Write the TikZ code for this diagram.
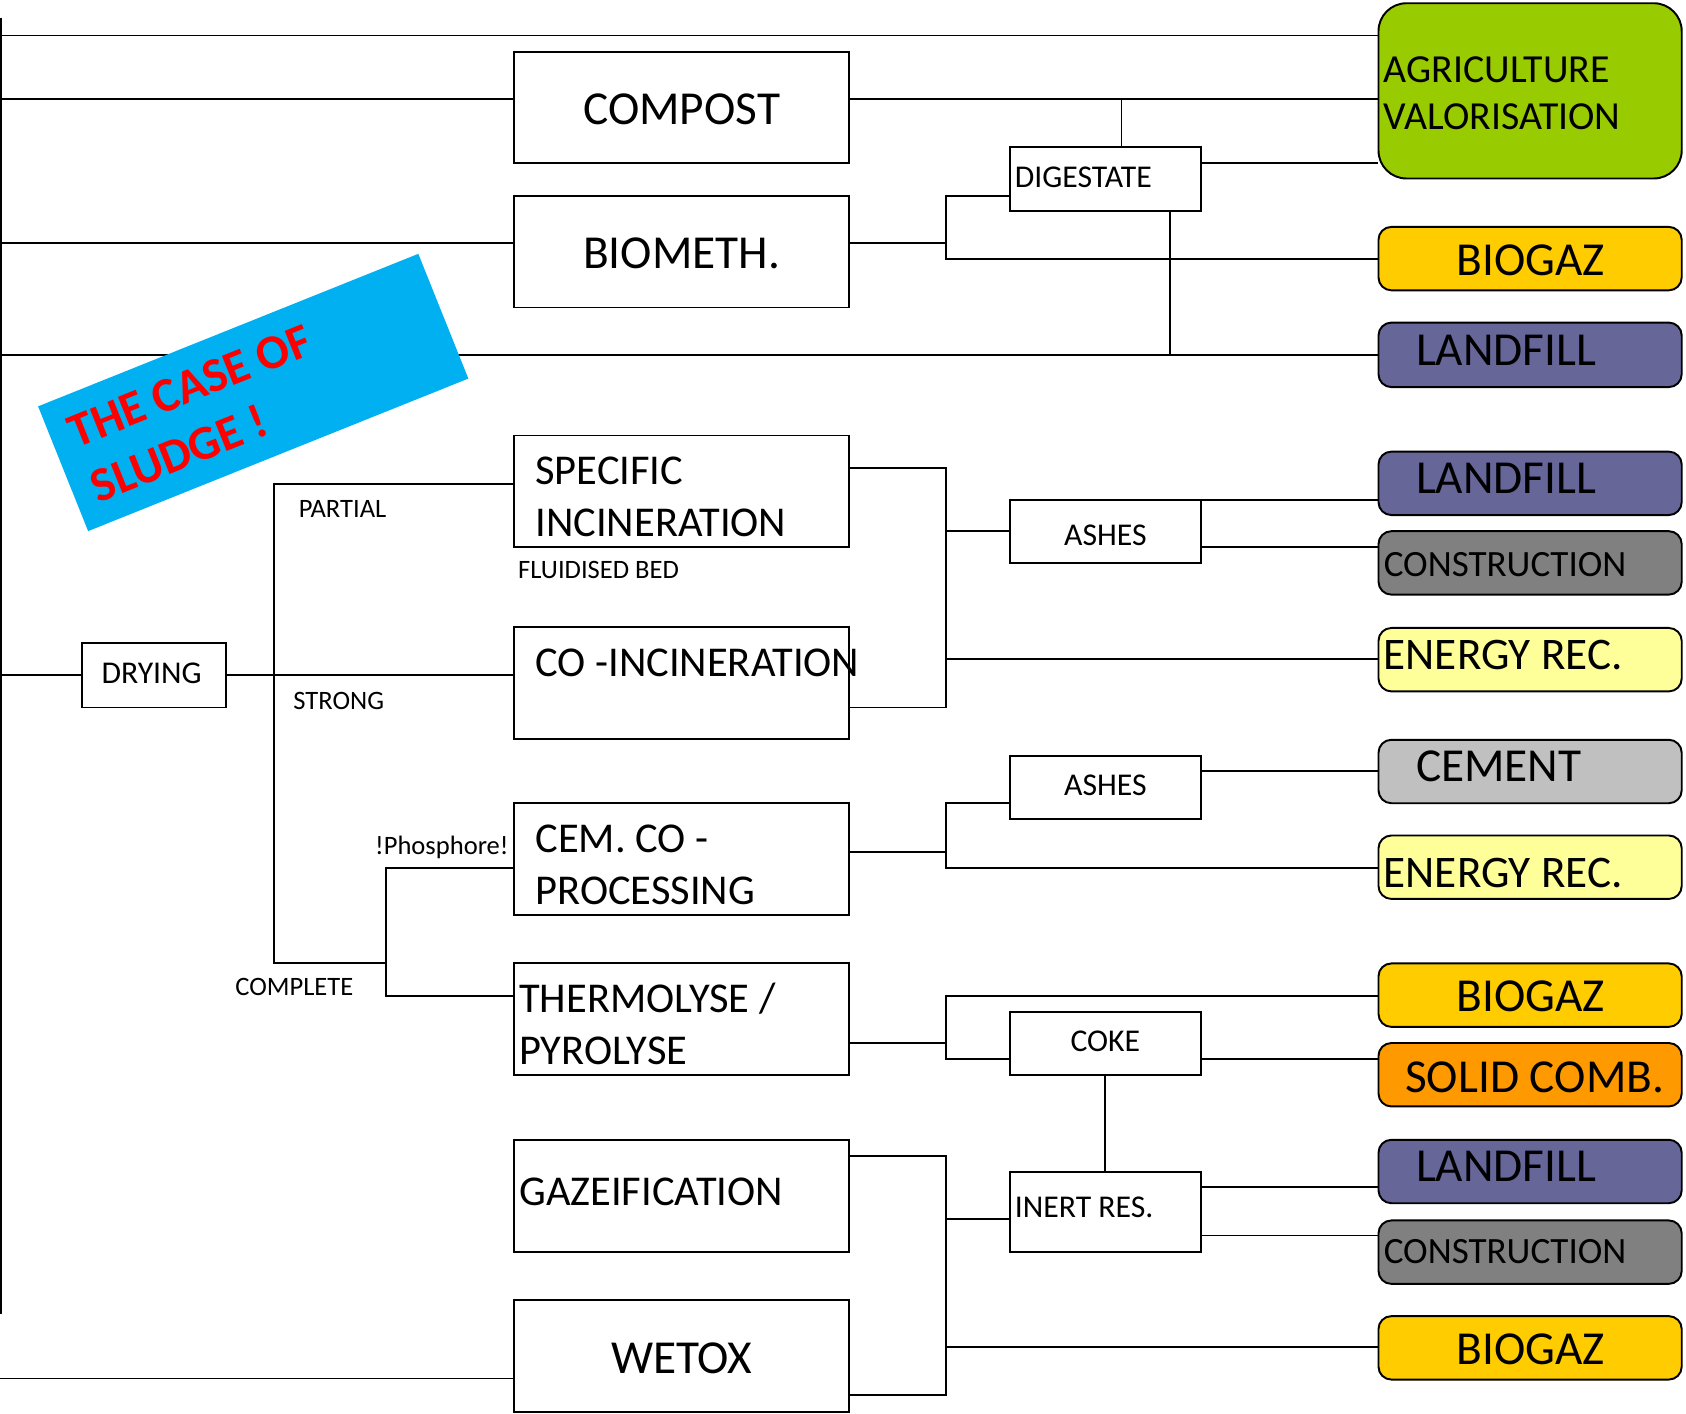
\documentclass[tikz,border=0pt]{standalone}
\usepackage{fontspec}
\setmainfont{Carlito}
\definecolor{agri}{HTML}{99CC00}
\definecolor{biogaz}{HTML}{FFCC00}
\definecolor{landfill}{HTML}{666699}
\definecolor{constr}{HTML}{808080}
\definecolor{energy}{HTML}{FFFF99}
\definecolor{cement}{HTML}{C0C0C0}
\definecolor{solid}{HTML}{FF9900}
\definecolor{banner}{HTML}{00B0F0}
\begin{document}
\begin{tikzpicture}[x=1pt,y=-1pt,
  line width=1.8pt,
  fa/.style={font=\fontsize{44}{50}\selectfont},
  fb/.style={font=\fontsize{39.5}{44}\selectfont},
  fc/.style={font=\fontsize{29.5}{34}\selectfont},
  fd/.style={font=\fontsize{24.7}{28}\selectfont},
  fe/.style={font=\fontsize{42}{48}\selectfont},
  ff/.style={font=\fontsize{34.5}{40}\selectfont},
  fg/.style={font=\fontsize{37}{42}\selectfont},
  midbox/.style={draw=black, fill=white, inner sep=0pt, minimum width=312pt, minimum height=104pt},
  smallbox/.style={draw=black, fill=white, inner sep=0pt, minimum width=178pt, minimum height=59pt},
  endbox/.style={draw=black, fill=#1, rounded corners=12pt, inner sep=0pt, minimum width=282pt, minimum height=59pt},
  txt/.style={anchor=base west, inner sep=0pt},
  ctxt/.style={anchor=base, inner sep=0pt}
]
\fill[white] (0,0) rectangle (1568,1315);
\useasboundingbox (0,0) rectangle (1568,1315);

% ---------- middle boxes ----------
\node[midbox] (compost) at (634,100) {};
\node[ctxt, fa] (compostT) at (634,115.5) {COMPOST};
\node[midbox] (biometh) at (634,234) {};
\node[ctxt, fa] (biomethT) at (634,250) {BIOMETH.};
\node[midbox] (specinc) at (634,457) {};
\node[midbox] (coinc) at (634,635) {};
\node[midbox] (cem) at (634,799) {};
\node[midbox] (thermo) at (634,948) {};
\node[midbox] (gaz) at (634,1112) {};
\node[midbox] (wetox) at (634,1261) {};
\node[ctxt, fa] (wetoxT) at (634,1277) {WETOX};

\node[txt, fb] (specT1) at (497,451) {SPECIFIC};
\node[txt, fb] (specT2) at (497,499) {INCINERATION};
\node[txt, fb] (coincT) at (497,629) {CO -INCINERATION};
\node[txt, fb] (cemT1) at (497,793) {CEM. CO -};
\node[txt, fb] (cemT2) at (497,841) {PROCESSING};
\node[txt, fb] (thermoT1) at (482,942) {THERMOLYSE /};
\node[txt, fb] (thermoT2) at (482,990) {PYROLYSE};
\node[txt, fb] (gazT) at (482,1121) {GAZEIFICATION};

% ---------- small boxes ----------
\node[smallbox] (digest) at (1028,166.5) {};
\node[txt, fc] (digestT) at (943,174) {DIGESTATE};
\node[smallbox] (ashes1) at (1028,494.5) {};
\node[ctxt, fc] (ashes1T) at (1028,507.5) {ASHES};
\node[smallbox] (ashes2) at (1028,732.5) {};
\node[ctxt, fc] (ashes2T) at (1028,739.5) {ASHES};
\node[smallbox] (coke) at (1028,970.5) {};
\node[ctxt, fc] (cokeT) at (1028,977.5) {COKE};
\node[smallbox, minimum height=74pt] (inert) at (1028,1127) {};
\node[txt, fc] (inertT) at (943,1132) {INERT RES.};
\node[smallbox, minimum width=134pt, minimum height=60pt] (drying) at (143,628) {};
\node[ctxt, fc] (dryingT) at (141,635.5) {DRYING};

% ---------- end boxes ----------
\node[endbox=agri, minimum height=163pt, rounded corners=26pt] (agribox) at (1423,84.5) {};
\node[txt, fg] (agriT1) at (1286,76.5) {AGRICULTURE};
\node[txt, fg] (agriT2) at (1286,120.5) {VALORISATION};
\node[endbox=biogaz] (biogaz1) at (1423,240.5) {};
\node[ctxt, fa] (biogaz1T) at (1423.5,256) {BIOGAZ};
\node[endbox=landfill, minimum height=60pt] (landfill1) at (1423,330) {};
\node[txt, fa] (landfill1T) at (1316,340) {LANDFILL};
\node[endbox=landfill] (landfill2) at (1423,449.5) {};
\node[txt, fa] (landfill2T) at (1316,459) {LANDFILL};
\node[endbox=constr] (constr1) at (1423,523.5) {};
\node[txt, ff] (constr1T) at (1286,535.7) {CONSTRUCTION};
\node[endbox=energy] (energy1) at (1423,613.5) {};
\node[txt, fe] (energy1T) at (1286,623) {ENERGY REC.};
\node[endbox=cement] (cement) at (1423,717.5) {};
\node[txt, fa] (cementT) at (1316,727) {CEMENT};
\node[endbox=energy] (energy2) at (1423,806.5) {};
\node[txt, fe] (energy2T) at (1286,825) {ENERGY REC.};
\node[endbox=biogaz] (biogaz2) at (1423,925.5) {};
\node[ctxt, fa] (biogaz2T) at (1423.5,941) {BIOGAZ};
\node[endbox=solid] (solid) at (1423,999.5) {};
\node[txt, fa] (solidT) at (1306,1016) {SOLID COMB.};
\node[endbox=landfill] (landfill3) at (1423,1089.5) {};
\node[txt, fa] (landfill3T) at (1316,1099) {LANDFILL};
\node[endbox=constr] (constr2) at (1423,1164.5) {};
\node[txt, ff] (constr2T) at (1286,1174.7) {CONSTRUCTION};
\node[endbox=biogaz] (biogaz3) at (1423,1253.5) {};
\node[ctxt, fa] (biogaz3T) at (1423.5,1269) {BIOGAZ};

% ---------- labels ----------
\node[txt, fd] (partial) at (277,481.6) {PARTIAL};
\node[txt, fd] (strong) at (272,659.6) {STRONG};
\node[txt, fd] (complete) at (218,925.6) {COMPLETE};
\node[txt, fd] (fluid) at (481,538) {FLUIDISED BED};
\node[txt, fd] (phos) at (348,794.6) {!Phosphore!};

% ---------- connectors ----------
\coordinate (trTop) at (1,17);
\coordinate (trBot) at (1,1222);
\draw (trTop) -- (trBot);
\draw (trTop |- 0,33) -- (agribox.west |- 0,33);
\draw (trTop |- 0,92) -- (compost.west |- 0,92);
\draw (compost.east |- 0,92) -- (agribox.west |- 0,92);
\draw (1043,92) -- (digest.north -| 1043,0);
\draw (digest.east |- 0,152) -- (agribox.west |- 0,152);
\draw (trTop |- 0,226) -- (biometh.west |- 0,226);
\draw (biometh.east |- 0,226) -- (880,226);
\draw (digest.west |- 0,182) -- (880,182) -- (880,241) -- (biogaz1.west |- 0,241);
\draw (digest.south -| 1088,0) -- (1088,330);
\draw (trTop |- 0,330) -- (landfill1.west |- 0,330);
\draw (trTop |- drying.west) -- (drying.west);
\draw (drying.east) -- (coinc.west |- drying.east);
\draw (specinc.west |- 0,450) -- (255,450) -- (255,896) -- (359,896);
\draw (cem.west |- 0,807) -- (359,807) -- (359,926) -- (thermo.west |- 0,926);
\draw (specinc.east |- 0,435) -- (880,435) -- (880,658) -- (coinc.east |- 0,658);
\draw (880,494) -- (ashes1.west |- 0,494);
\draw (880,613) -- (energy1.west |- 0,613);
\draw (ashes1.east |- 0,465) -- (landfill2.west |- 0,465);
\draw (ashes1.east |- 0,509) -- (constr1.west |- 0,509);
\draw (cem.east |- 0,792) -- (880,792);
\draw (ashes2.west |- 0,747) -- (880,747) -- (880,807) -- (energy2.west |- 0,807);
\draw (ashes2.east |- 0,717) -- (cement.west |- 0,717);
\draw (thermo.east |- 0,970) -- (880,970);
\draw (biogaz2.west |- 0,926) -- (880,926) -- (880,985) -- (coke.west |- 0,985);
\draw (coke.east |- 0,985) -- (solid.west |- 0,985);
\draw (coke.south) -- (inert.north);
\draw (inert.east |- 0,1104) -- (landfill3.west |- 0,1104);
\draw (inert.east |- 0,1149) -- (constr2.west |- 0,1149);
\draw (gaz.east |- 0,1075) -- (880,1075) -- (880,1297) -- (wetox.east |- 0,1297);
\draw (880,1134) -- (inert.west |- 0,1134);
\draw (880,1253) -- (biogaz3.west |- 0,1253);
\draw (0,1282) -- (wetox.west |- 0,1282);

% ---------- banner ----------
\node[fill=banner, rotate=21.86, minimum width=381pt, minimum height=125pt,
  inner sep=0pt] (sludge) at (235.5,365) {};
\node[rotate=21.86, anchor=north west, inner xsep=19pt, inner ysep=20pt,
  align=left, text=red, font=\bfseries\fontsize{45}{55}\selectfont]
  (sludgeT) at (sludge.north west) {THE CASE OF\\SLUDGE !};
\end{tikzpicture}
\end{document}
